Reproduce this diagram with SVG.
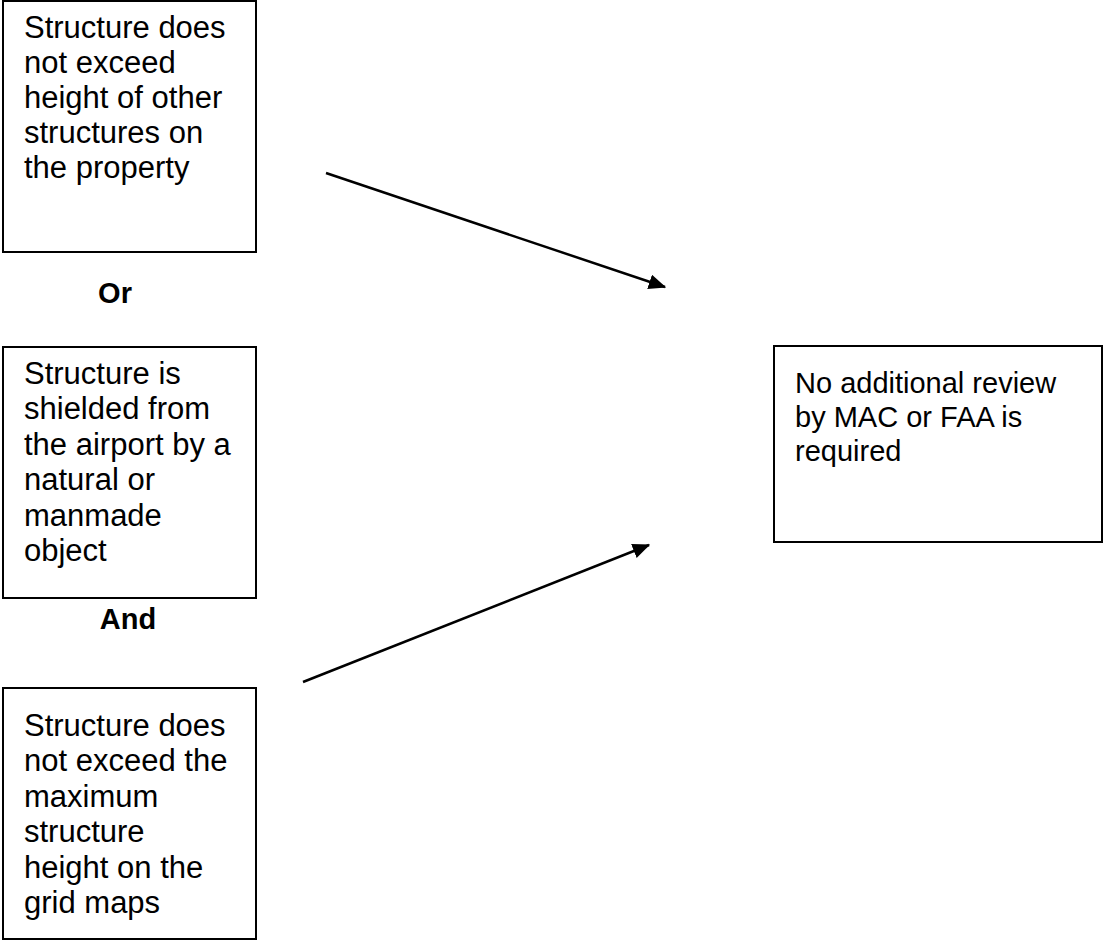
<svg xmlns="http://www.w3.org/2000/svg" width="1105" height="941" viewBox="0 0 1105 941">
<style>
.box{fill:#fff;stroke:#000;stroke-width:2}
.t{font-family:"Liberation Sans",Arial,sans-serif;font-size:31px;fill:#000}
.r{font-family:"Liberation Sans",Arial,sans-serif;font-size:29px;fill:#000}
.b{font-family:"Liberation Sans",Arial,sans-serif;font-size:29px;font-weight:bold;fill:#000;text-anchor:middle}
.c{stroke:#000;stroke-width:2.5;fill:none;marker-end:url(#ah)}
</style>
<defs>
<marker id="ah" markerWidth="7" markerHeight="6" refX="6.5" refY="3" orient="auto" markerUnits="strokeWidth">
<path d="M0,0 L7,3 L0,6 z" fill="#000"/>
</marker>
</defs>
<rect width="1105" height="941" fill="#fff"/>
<g id="node-height-other">
<rect class="box" x="3" y="1" width="253" height="251"/>
<text class="t" x="24" y="38">Structure does</text>
<text class="t" x="24" y="73">not exceed</text>
<text class="t" x="24" y="108">height of other</text>
<text class="t" x="24" y="143">structures on</text>
<text class="t" x="24" y="178">the property</text>
</g>
<g id="label-or">
<text class="b" x="115" y="303">Or</text>
</g>
<g id="node-shielded">
<rect class="box" x="3" y="347" width="253" height="251"/>
<text class="t" x="24" y="384">Structure is</text>
<text class="t" x="24" y="419">shielded from</text>
<text class="t" x="24" y="455">the airport by a</text>
<text class="t" x="24" y="490">natural or</text>
<text class="t" x="24" y="526">manmade</text>
<text class="t" x="24" y="561">object</text>
</g>
<g id="label-and">
<text class="b" x="128" y="629">And</text>
</g>
<g id="node-grid-maps">
<rect class="box" x="3" y="688" width="253" height="251"/>
<text class="t" x="24" y="736">Structure does</text>
<text class="t" x="24" y="771">not exceed the</text>
<text class="t" x="24" y="807">maximum</text>
<text class="t" x="24" y="842">structure</text>
<text class="t" x="24" y="878">height on the</text>
<text class="t" x="24" y="913">grid maps</text>
</g>
<g id="node-no-review">
<rect class="box" x="774" y="346" width="328" height="196"/>
<text class="r" x="795" y="393">No additional review</text>
<text class="r" x="795" y="427">by MAC or FAA is</text>
<text class="r" x="795" y="461">required</text>
</g>
<g id="connectors">
<line class="c" x1="326" y1="173" x2="665" y2="287"/>
<line class="c" x1="303" y1="682" x2="649" y2="545"/>
</g>
</svg>
